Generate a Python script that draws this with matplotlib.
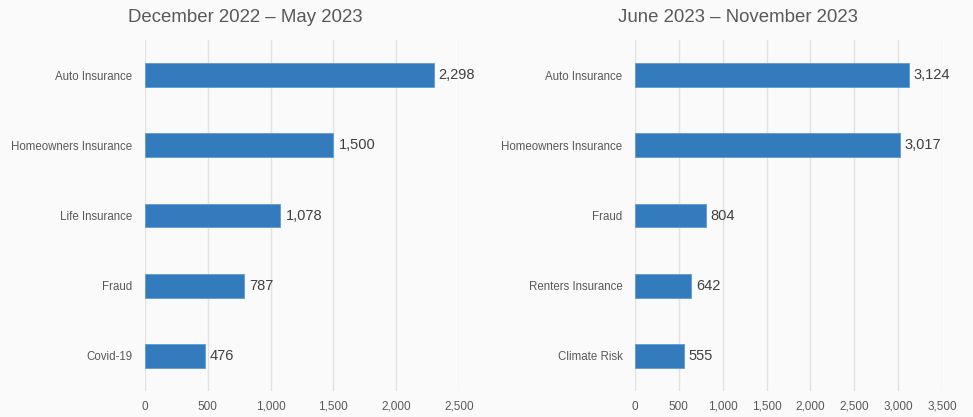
import matplotlib.pyplot as plt

plt.rcParams['font.family'] = ['Liberation Sans', 'DejaVu Sans']

# first half: December 2022 - May 2023
cats_a = ["Auto Insurance", "Homeowners Insurance", "Life Insurance", "Fraud", "Covid-19"]
vals_a = [2298, 1500, 1078, 787, 476]
ticks_a = [0, 500, 1000, 1500, 2000, 2500]

# second half: June 2023 - November 2023
cats_b = ["Auto Insurance", "Homeowners Insurance", "Fraud", "Renters Insurance", "Climate Risk"]
vals_b = [3124, 3017, 804, 642, 555]
ticks_b = [0, 500, 1000, 1500, 2000, 2500, 3000, 3500]

BAR = '#337bbd'
BG = '#fafafa'
TXT = '#595959'

fig = plt.figure(figsize=(9.73, 4.17), dpi=100, facecolor=BG)


def panel(rect, cats, vals, ticks, title, tx):
    ax = fig.add_axes(rect, facecolor=BG)
    y = range(len(cats))
    ax.barh(y, vals, height=0.34, color=BAR, edgecolor='#5b9bd5', linewidth=0.6, zorder=3)
    ax.set_ylim(len(cats) - 0.5, -0.5)
    ax.set_xlim(ticks[0], ticks[-1])
    ax.set_yticks(list(y))
    ax.set_yticklabels(cats, fontsize=8.3, color=TXT)
    ax.set_xticks(ticks)
    ax.set_xticklabels([f"{t:,}" for t in ticks], fontsize=8.5, color=TXT)
    ax.tick_params(length=0)
    ax.tick_params(axis='x', pad=7)
    ax.tick_params(axis='y', pad=9)
    ax.grid(axis='x', color='#e2e2e2', linewidth=1, zorder=0)
    for s in ax.spines.values():
        s.set_visible(False)
    off = ticks[-1] * 0.016
    for i, v in enumerate(vals):
        ax.text(v + off, i, f"{v:,}", va='center', ha='left', fontsize=10.5, color='#404040')
    fig.text(tx, 1 - 17 / 417, title, ha='center', va='center', fontsize=13.4, color=TXT)
    return ax


panel([145 / 973, 1 - 391 / 417, 314 / 973, 351 / 417], cats_a, vals_a, ticks_a,
      "December 2022 \u2013 May 2023", 245 / 973)
panel([635 / 973, 1 - 391 / 417, 307 / 973, 351 / 417], cats_b, vals_b, ticks_b,
      "June 2023 \u2013 November 2023", 738 / 973)

fig.savefig('out.png', dpi=100, facecolor=BG)
